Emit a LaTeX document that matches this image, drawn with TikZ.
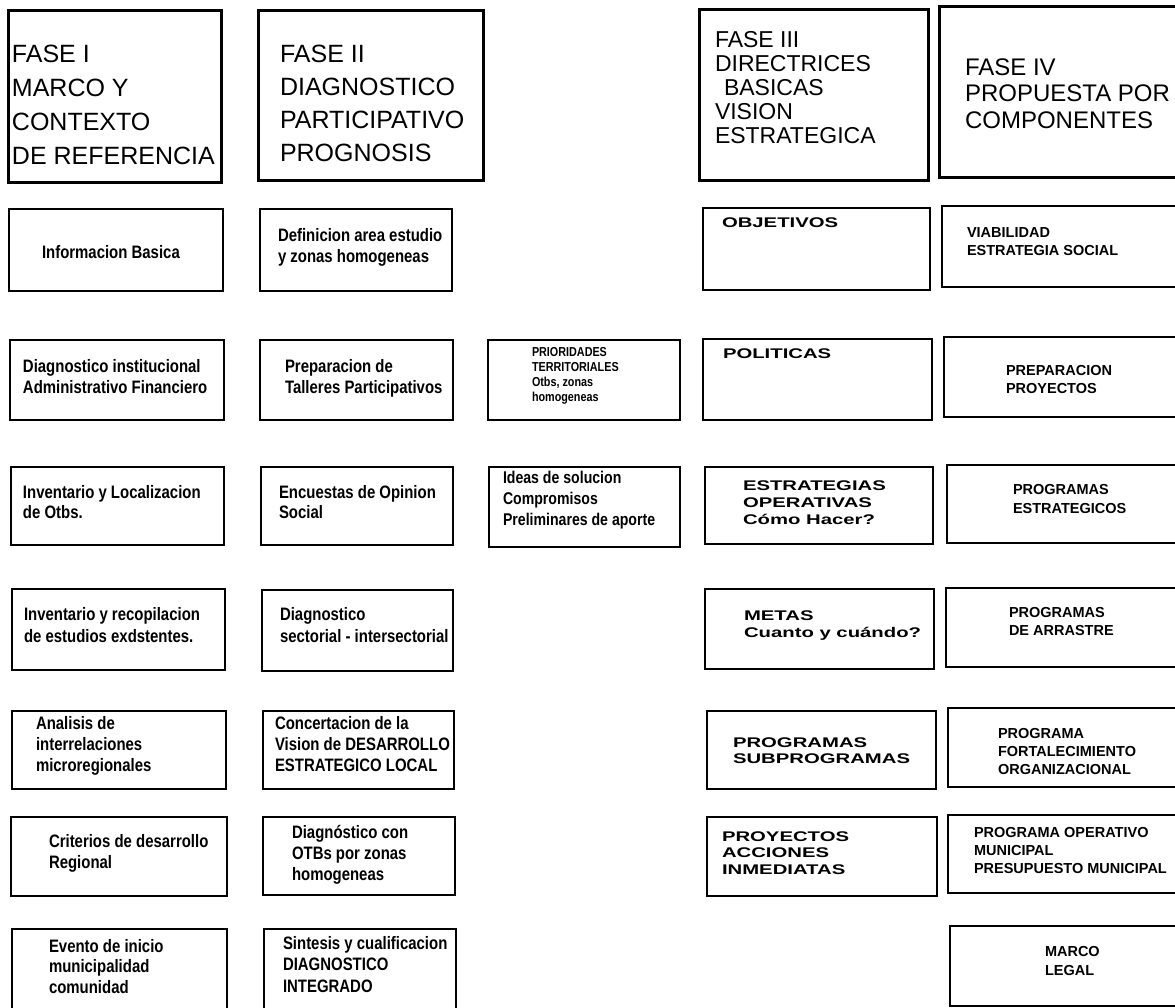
\documentclass[tikz,border=0pt]{standalone}
\usepackage{fontspec}
\setmainfont{Liberation Sans}
\newfontfamily\narrowbf[FakeStretch=0.83]{Liberation Sans Bold}
\newfontfamily\widebf[FakeStretch=1.45]{Liberation Sans Bold}
\newfontfamily\capsbf{Liberation Sans Bold}
\tikzset{
	cell/.style={draw, line width=1.6pt, anchor=north west, inner sep=0pt, outer sep=0pt},
	head/.style={cell, line width=3pt},
	txt/.style={anchor=base west, inner sep=0pt, outer sep=0pt, align=left},
	headtxt/.style={txt, font=\fontsize{25}{33}\selectfont},
	narrow/.style={txt, font=\narrowbf\fontsize{18}{21}\selectfont},
	wide/.style={txt, font=\widebf\fontsize{14}{16.7}\selectfont},
	caps/.style={txt, font=\capsbf\fontsize{14.5}{18}\selectfont},
}

\begin{document}
\begin{tikzpicture}[x=1pt, y=-1pt]
			\clip (0,0) rectangle (1175,1007);
			\foreach \n/\x/\y/\w/\h in {f1/8/10/213/172, f2/258/10/225/170, f3/699/9/229/171, f4/939/6/250/171}
				\node[head, minimum width=\w pt, minimum height=\h pt] (\n) at (\x,\y) {};
			\foreach \n/\x/\y/\w/\h in {
				b11/9/209/214/82, b12/260/209/192/82, b14/703/208/227/82, b15/942/206/250/81,
				b21/10/340/214/80, b22/260/340/193/80, b23/488/340/192/80, b24/703/339/229/81, b25/944/337/250/80,
				b31/11/467/213/78, b32/261/467/192/78, b33/489/467/191/80, b34/705/467/228/77, b35/947/465/250/78,
				b41/12/589/213/81, b42/262/590/191/81, b44/705/589/229/80, b45/946/588/250/79,
				b51/12/711/214/78, b52/263/711/191/78, b54/707/711/229/78, b55/948/708/250/79,
				b61/11/817/216/79, b62/263/817/192/78, b64/707/817/230/79, b65/948/815/250/78,
				b71/12/929/215/90, b72/264/929/192/90, b75/950/926/250/80}
				\node[cell, minimum width=\w pt, minimum height=\h pt] (\n) at (\x,\y) {};

			\node[headtxt, font=\fontsize{25}{34}\selectfont] (t1) at ([shift={(4,154)}]f1.north west) {FASE I\\MARCO Y\\CONTEXTO\\DE REFERENCIA};
			\node[headtxt] (t2) at ([shift={(22,151)}]f2.north west) {FASE II\\DIAGNOSTICO\\PARTICIPATIVO\\PROGNOSIS};
			\node[headtxt, font=\fontsize{23}{24}\selectfont] (t3) at ([shift={(16,134)}]f3.north west) {FASE III\\DIRECTRICES\\\hspace*{9pt}BASICAS\\VISION\\ESTRATEGICA};
			\node[headtxt, font=\fontsize{24}{26.5}\selectfont] (t4) at ([shift={(26,122)}]f4.north west) {FASE IV\\PROPUESTA POR\\COMPONENTES};

			\node[narrow] (t11) at ([shift={(33,49)}]b11.north west) {Informacion Basica};
			\node[narrow] (t12) at ([shift={(18,53)}]b12.north west) {Definicion area estudio\\y zonas homogeneas};
			\node[wide] (t14) at ([shift={(19,19)}]b14.north west) {OBJETIVOS};
			\node[caps] (t15) at ([shift={(25,49)}]b15.north west) {VIABILIDAD\\ESTRATEGIA SOCIAL};

			\node[narrow] (t21) at ([shift={(13,53)}]b21.north west) {Diagnostico institucional\\Administrativo Financiero};
			\node[narrow] (t22) at ([shift={(25,53)}]b22.north west) {Preparacion de\\Talleres Participativos};
			\node[narrow, font=\narrowbf\fontsize{13}{14.7}\selectfont] (t23) at ([shift={(44,61)}]b23.north west) {PRIORIDADES\\TERRITORIALES\\Otbs, zonas\\homogeneas};
			\node[wide] (t24) at ([shift={(20,19)}]b24.north west) {POLITICAS};
			\node[caps] (t25) at ([shift={(62,56)}]b25.north west) {PREPARACION\\PROYECTOS};

			\node[narrow, font=\narrowbf\fontsize{18}{20}\selectfont] (t31) at ([shift={(12,51)}]b31.north west) {Inventario y Localizacion\\de Otbs.};
			\node[narrow, font=\narrowbf\fontsize{18}{20}\selectfont] (t32) at ([shift={(18,51)}]b32.north west) {Encuestas de Opinion\\Social};
			\node[narrow, font=\narrowbf\fontsize{17}{21}\selectfont] (t33) at ([shift={(14,58)}]b33.north west) {Ideas de solucion\\Compromisos\\Preliminares de aporte};
			\node[wide, font=\widebf\fontsize{14}{17}\selectfont] (t34) at ([shift={(38,57)}]b34.north west) {ESTRATEGIAS\\OPERATIVAS\\Cómo Hacer?};
			\node[caps, font=\capsbf\fontsize{14.5}{19}\selectfont] (t35) at ([shift={(66,48)}]b35.north west) {PROGRAMAS\\ESTRATEGICOS};

			\node[narrow, font=\narrowbf\fontsize{18}{22}\selectfont] (t41) at ([shift={(12,53)}]b41.north west) {Inventario y recopilacion\\de estudios exdstentes.};
			\node[narrow, font=\narrowbf\fontsize{18}{22}\selectfont] (t42) at ([shift={(18,52)}]b42.north west) {Diagnostico\\sectorial - intersectorial};
			\node[wide] (t44) at ([shift={(39,48)}]b44.north west) {METAS\\Cuanto y cuándo?};
			\node[caps] (t45) at ([shift={(63,47)}]b45.north west) {PROGRAMAS\\DE ARRASTRE};

			\node[narrow] (t51) at ([shift={(24,60)}]b51.north west) {Analisis de\\interrelaciones\\microregionales};
			\node[narrow] (t52) at ([shift={(12,60)}]b52.north west) {Concertacion de la\\Vision de DESARROLLO\\ESTRATEGICO LOCAL};
			\node[wide, font=\widebf\fontsize{14}{16}\selectfont] (t54) at ([shift={(26,52)}]b54.north west) {PROGRAMAS\\SUBPROGRAMAS};
			\node[caps] (t55) at ([shift={(50,66)}]b55.north west) {PROGRAMA\\FORTALECIMIENTO\\ORGANIZACIONAL};

			\node[narrow] (t61) at ([shift={(38,51)}]b61.north west) {Criterios de desarrollo\\Regional};
			\node[narrow] (t62) at ([shift={(29,63)}]b62.north west) {Diagnóstico con\\OTBs por zonas\\homogeneas};
			\node[wide, font=\widebf\fontsize{14}{16.5}\selectfont] (t64) at ([shift={(15,57)}]b64.north west) {PROYECTOS\\ACCIONES\\INMEDIATAS};
			\node[caps] (t65) at ([shift={(26,58)}]b65.north west) {PROGRAMA OPERATIVO\\MUNICIPAL\\PRESUPUESTO MUNICIPAL};

			\node[narrow, font=\narrowbf\fontsize{18}{20.5}\selectfont] (t71) at ([shift={(37,64)}]b71.north west) {Evento de inicio\\municipalidad\\comunidad};
			\node[narrow, font=\narrowbf\fontsize{18}{21.5}\selectfont] (t72) at ([shift={(19,63)}]b72.north west) {Sintesis y cualificacion\\DIAGNOSTICO\\INTEGRADO};
			\node[caps, font=\capsbf\fontsize{14.5}{19}\selectfont] (t75) at ([shift={(95,49)}]b75.north west) {MARCO\\LEGAL};
		\end{tikzpicture}
\end{document}
